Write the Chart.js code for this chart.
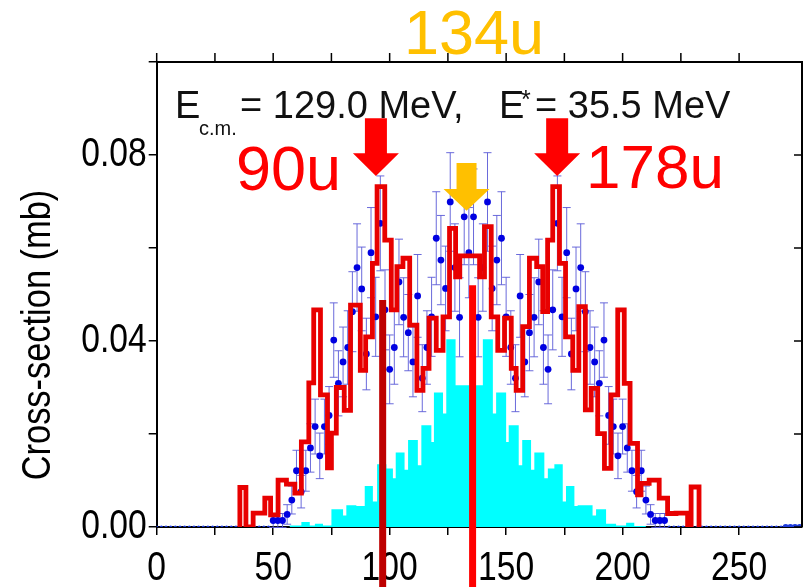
<!DOCTYPE html>
<html>
<head>
<meta charset="utf-8">
<script src="https://cdn.jsdelivr.net/npm/chart.js@4.4.1/dist/chart.umd.min.js"></script>
<style>
html,body{margin:0;padding:0;background:#fff;}
canvas{display:block;}
</style>
</head>
<body>
<canvas id="c" width="806" height="587"></canvas>
<script>
// ---------- data ----------
// red histogram: bin edges (mass units) and heights (mb)
const redEdges = [35.7,38.3,41.4,46.4,48.9,52.1,55.7,59.3,62.1,65.3,67.4,70.3,73.3,75,77.1,80.5,83.2,87.4,89.7,92.6,94.6,97.9,100.7,103.1,105.7,108.6,111.7,114.3,116.9,120,122.9,125.7,128.3,130.1,138.6,140.7,143.6,146.4,149.3,152.2,154.3,157.1,160,163.1,165.7,167.8,170,172.9,175.5,178.6,181.2,184,186.5,189.3,192.2,195,197.9,200.7,203.2,206.4,207.9,211.4,215.7,219.3,222.9,227.9,229.4,232.8];
const redValues = [0.0085,0,0.003,0.0062,0.0026,0.0101,0.0092,0.0073,0.0183,0.031,0.0467,0.0284,0.0127,0.0202,0.030,0.0251,0.0477,0.0337,0.0409,0.0567,0.0732,0.0617,0.0467,0.056,0.0578,0.0434,0.0294,0.0341,0.0449,0.038,0.0452,0.0642,0.0538,0.0583,0.0538,0.0646,0.0452,0.038,0.0449,0.0341,0.0294,0.0431,0.0578,0.056,0.0463,0.0617,0.0732,0.0567,0.0409,0.0337,0.0474,0.0252,0.0298,0.0201,0.0126,0.0284,0.0467,0.0309,0.018,0.0069,0.0094,0.0101,0.0062,0.0029,0.003,0,0.0086];

// cyan histogram: bin edges and heights
const cyanEdges = [57,62.1,65.7,67.9,71.4,75,80,81.4,85.7,89.3,92.8,94.6,98.6,101.4,102.6,106.4,107.9,112.1,113.6,117.9,119,122.9,124.3,128.3,140,144.3,145.7,150,151.1,155.4,156.9,160.7,162.1,166.4,167.9,170.7,174.3,175.7,179.3,180.7,187.1,188.6,192.9,197.2,201.5,205,210];
const cyanValues = [0.0003,0.0011,0.0003,0.0007,0.0003,0.0038,0.0025,0.0047,0.0045,0.0088,0.0055,0.0135,0.0126,0.0105,0.016,0.0123,0.0187,0.0133,0.0219,0.0183,0.0289,0.0244,0.0404,0.0305,0.0404,0.0244,0.0289,0.0183,0.0219,0.0133,0.0187,0.0123,0.016,0.0105,0.0126,0.0135,0.0055,0.0088,0.0045,0.0047,0.0025,0.0038,0.0007,0.0003,0.0009,0.0002];

// blue data points with error bars
const blueMass = [50,52,54,56,58,60,62,64,66,68,70,72,74,76,78,80,82,84,86,88,90,92,94,96,98,100,102,104,106,108,110,112,114,116,118,120,122,124,126,128,130,132,134,136,138,140,142,144,146,148,150,152,154,156,158,160,162,164,166,168,170,172,174,176,178,180,182,184,186,188,190,192,194,196,198,200,202,204,206,208,210,212,214,216,218];
const blueValues = [0.0014,0.0014,0.0014,0.0027,0.0058,0.0121,0.0076,0.0121,0.017,0.0216,0.0153,0.0216,0.024,0.0402,0.0309,0.0355,0.0386,0.0463,0.0558,0.0512,0.0372,0.059,0.0452,0.0653,0.0467,0.0339,0.0386,0.0527,0.0451,0.0418,0.0355,0.0497,0.032,0.0386,0.0452,0.0621,0.0574,0.0513,0.0699,0.0558,0.0451,0.0667,0.059,0.0667,0.0451,0.0558,0.0699,0.0513,0.0574,0.0621,0.0452,0.0386,0.032,0.0497,0.0355,0.0418,0.0451,0.0527,0.0386,0.0339,0.0467,0.0653,0.0452,0.059,0.0372,0.0512,0.0558,0.0463,0.0386,0.0355,0.0309,0.0402,0.024,0.0216,0.0153,0.0216,0.017,0.0121,0.0076,0.0121,0.0058,0.0027,0.0014,0.0014,0.0014];
const blueErrors = [0.0015,0.0015,0.0015,0.0021,0.003,0.0044,0.0035,0.0044,0.0052,0.0059,0.0049,0.0059,0.0062,0.008,0.007,0.0075,0.0079,0.0086,0.0094,0.009,0.0077,0.0097,0.0085,0.0102,0.0086,0.0074,0.0079,0.0092,0.0085,0.0082,0.0075,0.0089,0.0072,0.0079,0.0085,0.01,0.0096,0.0091,0.0106,0.0094,0.0085,0.0103,0.0097,0.0103,0.0085,0.0094,0.0106,0.0091,0.0096,0.01,0.0085,0.0079,0.0072,0.0089,0.0075,0.0082,0.0085,0.0092,0.0079,0.0074,0.0086,0.0102,0.0085,0.0097,0.0077,0.009,0.0094,0.0086,0.0079,0.0075,0.007,0.008,0.0062,0.0059,0.0049,0.0059,0.0052,0.0044,0.0035,0.0044,0.003,0.0021,0.0015,0.0015,0.0015];
// empty bins drawn as small dots on the zero line
const zeroMass = [0,2,4,6,8,10,12,14,16,18,20,22,24,26,28,30,32,34,36,38,40,42,44,46,48,220,222,224,226,228,230,232,234,236,238,240,242,244,246,248,250,252,254,256,258,260,262,264,266,268,270,272,274,276];

// axis ticks
const xTickStep = 25, xLabelStep = 50;
const yTickStep = 0.02, yLabelStep = 0.04;

// annotations (mass values)
const markerLines = [{mass: 97, top: 0.0488, color: 'rgb(190,0,0)'}, {mass: 135.6, top: 0.052, color: 'rgb(255,0,0)'}];
const arrows = [
  {mass: 94.1, top: 0.0879, head: 0.0804, tip: 0.0755, color: 'rgb(255,0,0)', shaft: 11, half: 23},
  {mass: 171.9, top: 0.0879, head: 0.0804, tip: 0.0755, color: 'rgb(255,0,0)', shaft: 11, half: 23},
  {mass: 133.0, top: 0.0783, head: 0.0727, tip: 0.068, color: 'rgb(255,192,0)', shaft: 10, half: 23}
];

const SANS = "'Liberation Sans', Arial, Helvetica, sans-serif";
const NARROW_X = 0.82; // horizontal squeeze of the axis lettering

// ---------- build datasets ----------
function histPoints(edges, values){
  const pts = [{x: edges[0], y: 0}];
  for (let i = 0; i < values.length; i++) {
    pts.push({x: edges[i], y: values[i]});
    pts.push({x: edges[i + 1], y: values[i]});
  }
  pts.push({x: edges[edges.length - 1], y: 0});
  return pts;
}
const redPts = histPoints(redEdges, redValues);
const cyanPts = histPoints(cyanEdges, cyanValues);
const bluePts = blueMass.map((m, i) => ({x: m, y: blueValues[i]}));
const zeroPts = zeroMass.map(m => ({x: m, y: 0}));
const zeroRadius = zeroMass.map(m => m >= 270 ? 3 : 1.6);

// narrow lettering for the axis tick labels
const narrowTicksPlugin = {
  id: 'narrowTicks',
  afterLayout(chart) {
    ['x', 'y'].forEach(id => {
      const s = chart.scales[id];
      if (s._narrowed) return;
      s._narrowed = true;
      const orig = s.drawLabels.bind(s);
      s.drawLabels = function(area) {
        const ctx = this.ctx;
        const ft = ctx.fillText;
        ctx.fillText = function(t, x, y, ...r) {
          this.save(); this.translate(x, y); this.scale(NARROW_X, 1);
          ft.call(this, t, 0, 0, ...r);
          this.restore();
        };
        try { orig(area); } finally { ctx.fillText = ft; }
      };
    });
  }
};

const errorBarPlugin = {
  id: 'errbars',
  beforeDatasetDraw(chart, args) {
    if (args.index !== 1) return;
    const ctx = chart.ctx, xs = chart.scales.x, ys = chart.scales.y;
    ctx.save();
    ctx.strokeStyle = 'rgba(90,90,215,0.9)';
    ctx.lineWidth = 1;
    bluePts.forEach((p, i) => {
      const px = xs.getPixelForValue(p.x);
      const y1 = ys.getPixelForValue(p.y - blueErrors[i]);
      const y2 = ys.getPixelForValue(p.y + blueErrors[i]);
      ctx.beginPath();
      ctx.moveTo(px, y1); ctx.lineTo(px, y2);
      ctx.moveTo(px - 4, y1); ctx.lineTo(px + 4, y1);
      ctx.moveTo(px - 4, y2); ctx.lineTo(px + 4, y2);
      ctx.stroke();
    });
    ctx.restore();
  }
};

const decorPlugin = {
  id: 'decor',
  afterDraw(chart) {
    const ctx = chart.ctx, xs = chart.scales.x, ys = chart.scales.y, a = chart.chartArea;
    ctx.save();
    // top and right frame with ticks
    ctx.strokeStyle = '#000'; ctx.lineWidth = 2;
    ctx.beginPath();
    ctx.moveTo(a.left, a.top); ctx.lineTo(a.right, a.top); ctx.lineTo(a.right, a.bottom);
    ctx.stroke();
    ctx.lineWidth = 1.5;
    ctx.beginPath();
    xs.ticks.forEach(t => { const px = xs.getPixelForValue(t.value); ctx.moveTo(px, a.top); ctx.lineTo(px, a.top - 9); });
    ys.ticks.forEach(t => { const py = ys.getPixelForValue(t.value); ctx.moveTo(a.right, py); ctx.lineTo(a.right - 8, py); });
    ctx.stroke();

    // vertical marker lines (extend below the axis)
    markerLines.forEach(m => {
      const px = xs.getPixelForValue(m.mass);
      ctx.strokeStyle = m.color; ctx.lineWidth = 7;
      ctx.beginPath(); ctx.moveTo(px, ys.getPixelForValue(m.top)); ctx.lineTo(px, chart.height); ctx.stroke();
    });

    // block arrows
    arrows.forEach(ar => {
      const px = xs.getPixelForValue(ar.mass);
      const t = ys.getPixelForValue(ar.top), h = ys.getPixelForValue(ar.head), tip = ys.getPixelForValue(ar.tip);
      ctx.fillStyle = ar.color;
      ctx.beginPath();
      ctx.moveTo(px - ar.shaft, t); ctx.lineTo(px + ar.shaft, t); ctx.lineTo(px + ar.shaft, h);
      ctx.lineTo(px + ar.half, h); ctx.lineTo(px, tip); ctx.lineTo(px - ar.half, h);
      ctx.lineTo(px - ar.shaft, h); ctx.closePath(); ctx.fill();
    });

    // texts
    ctx.textBaseline = 'alphabetic'; ctx.textAlign = 'left';
    ctx.fillStyle = 'rgb(255,192,0)';
    ctx.font = '63px ' + SANS;
    ctx.fillText('134u', 404, 54);
    ctx.fillStyle = 'rgb(255,0,0)';
    ctx.font = '63px ' + SANS;
    ctx.fillText('90u', 236, 190);
    ctx.font = '62px ' + SANS;
    ctx.fillText('178u', 586, 188);

    ctx.fillStyle = '#111';
    ctx.font = '38px ' + SANS;
    ctx.fillText('E', 175, 118);
    ctx.font = '20px ' + SANS;
    ctx.fillText('c.m.', 199, 135);
    ctx.font = '38px ' + SANS;
    ctx.fillText('= 129.0 MeV,', 240, 118);
    ctx.fillText('E', 499, 118);
    ctx.font = '25px ' + SANS;
    ctx.fillText('*', 521, 108);
    ctx.font = '38px ' + SANS;
    ctx.fillText('= 35.5 MeV', 535, 118);

    // y axis title
    ctx.save();
    ctx.translate(50, 335);
    ctx.rotate(-Math.PI / 2);
    ctx.scale(0.86, 1);
    ctx.textAlign = 'center';
    ctx.fillStyle = '#000';
    ctx.font = '40px ' + SANS;
    ctx.fillText('Cross-section (mb)', 0, 0);
    ctx.restore();
    ctx.restore();
  }
};

const tickFont = {family: SANS, size: 41};

new Chart(document.getElementById('c'), {
  type: 'scatter',
  data: {
    datasets: [
      {label: 'red', data: redPts, showLine: true, borderColor: 'rgb(232,0,0)', borderWidth: 4.8, borderJoinStyle: 'miter', pointRadius: 0, fill: false},
      {label: 'blue', data: bluePts, showLine: false, pointRadius: 3.4, pointBackgroundColor: 'rgb(0,0,225)', pointBorderWidth: 0},
      {label: 'zero', data: zeroPts, showLine: false, pointRadius: zeroRadius, pointBackgroundColor: 'rgb(30,60,220)', pointBorderWidth: 0},
      {label: 'cyan', data: cyanPts, showLine: true, borderColor: 'rgba(0,0,0,0)', borderWidth: 0, backgroundColor: 'rgb(0,255,255)', pointRadius: 0, fill: 'origin'}
    ]
  },
  options: {
    responsive: false,
    devicePixelRatio: 1,
    animation: false,
    events: [],
    layout: {padding: {top: 62, right: 3, left: 0, bottom: 0}},
    plugins: {legend: {display: false}, tooltip: {enabled: false}},
    scales: {
      x: {
        type: 'linear', min: 0, max: 277,
        afterFit: s => { s.height = 60; },
        afterBuildTicks: s => { s.ticks = s.ticks.filter(t => Math.abs(t.value / xTickStep - Math.round(t.value / xTickStep)) < 1e-6); },
        ticks: {stepSize: xTickStep, autoSkip: false, maxRotation: 0, color: '#000', font: tickFont, padding: 9,
          callback: v => (Math.abs(v % xLabelStep) < 1e-6 ? String(v) : '')},
        grid: {drawOnChartArea: false, drawTicks: true, tickLength: 8, color: '#000', lineWidth: 1.5},
        border: {display: true, color: '#000', width: 2}
      },
      y: {
        type: 'linear', min: 0, max: 0.1,
        afterFit: s => { s.width = 156.7; },
        ticks: {stepSize: yTickStep, autoSkip: false, color: '#000', font: tickFont, padding: 2,
          callback: v => { const r = v / yLabelStep; return Math.abs(r - Math.round(r)) < 1e-6 && v < 0.099 ? v.toFixed(2) : ''; }},
        grid: {drawOnChartArea: false, drawTicks: true, tickLength: 8, color: '#000', lineWidth: 1.5},
        border: {display: true, color: '#000', width: 2}
      }
    }
  },
  plugins: [narrowTicksPlugin, errorBarPlugin, decorPlugin]
});
</script>
</body>
</html>
